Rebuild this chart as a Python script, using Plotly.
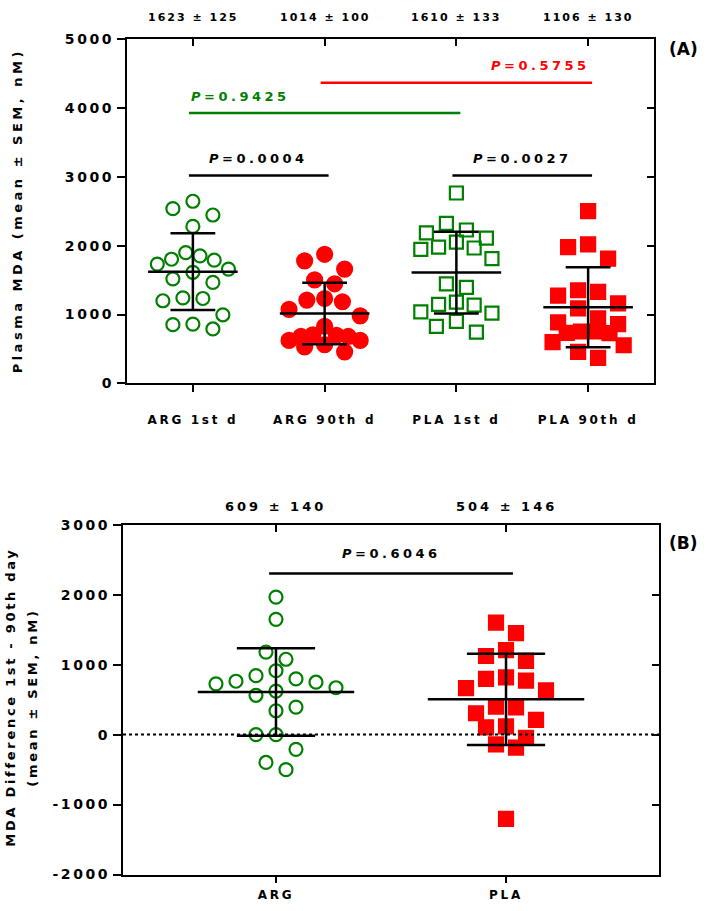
import numpy as np
import plotly.graph_objects as go

# ---------------- data ----------------
groups_a = ["ARG 1st d", "ARG 90th d", "PLA 1st d", "PLA 90th d"]
arg_1st = [2539, 2647, 2447, 2281, 1900, 1853, 1804, 1790, 1733, 1661,
           1614, 1519, 1467, 1233, 1200, 1243, 996, 861, 790, 853]
arg_90th = [1876, 1781, 1661, 1504, 1447, 1233, 1186, 1210, 1076, 981,
            829, 704, 681, 624, 561, 457, 529, 624, 681, 696]
pla_1st = [2767, 2324, 2110, 2186, 2229, 2053, 1981, 1948, 1967, 1814,
           1395, 1447, 1147, 1138, 1181, 1038, 1019, 900, 829, 743]
pla_90th = [2504, 1981, 2019, 1814, 1353, 1276, 1329, 1090, 1161, 886,
            943, 753, 729, 733, 753, 861, 553, 600, 457, 371]
means_a = [1623, 1014, 1610, 1106]
sems_a = [125, 100, 133, 130]
yticks_a = [0, 1000, 2000, 3000, 4000, 5000]

groups_b = ["ARG", "PLA"]
arg_diff = [1966, 1648, 1180, 1077, 913, 843, 763, 726, 670, 749,
            796, 562, 622, 341, 393, 0, 0, -211, -501, -398]
pla_diff = [1601, 1451, 1208, 1124, 1053, 819, 772, 796, 632, 664,
            398, 389, 305, 211, 103, 117, -46, -140, -187, -1204]
means_b = [609, 504]
sems_b = [140, 146]
yticks_b = [-2000, -1000, 0, 1000, 2000, 3000]

# comparisons: (group i, group j, bracket height, p text, colour, text alignment)
comparisons_a = [
    (0, 1, 3020, "0.0004", "black", "center"),
    (2, 3, 3020, "0.0027", "black", "center"),
    (0, 2, 3930, "0.9425", "#008000", "left"),
    (1, 3, 4370, "0.5755", "#ff0000", "right"),
]
comparisons_b = [(0, 1, 2303, "0.6046", "black", "center")]

# ---------------- geometry ----------------
W, H = 709, 911
A_x_px = (127, 654)
A_y_px = (32, 382)
B_x_px = (123, 659)
B_y_px = (526, 882)
A_xrange = [-0.5, 3.5]
A_yrange = [0, 5000]
B_xrange = [-0.665, 1.665]
B_yrange = [-2000, 3000]

GREEN = "#008000"
RED = "#ff0000"
FONT = "DejaVu Sans"


def ls(text, sp):
    return f'<span style="letter-spacing:{sp}px">{text}</span>'


def xdom(px):
    return [px[0] / W, px[1] / W]


def ydom(px):
    return [1 - px[1] / H, 1 - px[0] / H]


def swarm(values, px_unit, px_cat, row_h=18.0, step=20.0, half_w=0.27):
    """Column-scatter layout: group points into horizontal rows and spread them."""
    vals = np.asarray(values, dtype=float)
    order = list(np.argsort(-vals, kind="stable"))
    offs = np.zeros(len(vals))
    max_half = half_w * px_cat
    k = 0
    while k < len(order):
        top = vals[order[k]] * px_unit
        row = [order[k]]
        k += 1
        while k < len(order) and top - vals[order[k]] * px_unit < row_h:
            row.append(order[k])
            k += 1
        n = len(row)
        s = step if n == 1 else min(step, 2 * max_half / (n - 1))
        slots = [(q - (n - 1) / 2) * s for q in range(n)]
        slots.sort(key=lambda c: (round(abs(c), 6), c))
        for idx, pos in zip(row, slots):
            offs[idx] = pos
    return offs / px_cat


A_px_unit = (A_y_px[1] - A_y_px[0]) / (A_yrange[1] - A_yrange[0])
A_px_cat = (A_x_px[1] - A_x_px[0]) / (A_xrange[1] - A_xrange[0])
B_px_unit = (B_y_px[1] - B_y_px[0]) / (B_yrange[1] - B_yrange[0])
B_px_cat = (B_x_px[1] - B_x_px[0]) / (B_xrange[1] - B_xrange[0])

fig = go.Figure()

# ---------------- points ----------------
series_a = [
    (arg_1st, "circle-open", 13, GREEN),
    (arg_90th, "circle", 15, RED),
    (pla_1st, "square-open", 13, GREEN),
    (pla_90th, "square", 14, RED),
]
for i, (vals, sym, size, col) in enumerate(series_a):
    off = swarm(vals, A_px_unit, A_px_cat)
    fig.add_trace(go.Scatter(
        x=i + off, y=vals, mode="markers", xaxis="x", yaxis="y",
        marker=dict(symbol=sym, size=size, color=col, line=dict(width=2.2, color=col)),
        showlegend=False, hoverinfo="skip"))

series_b = [
    (arg_diff, "circle-open", 13, GREEN),
    (pla_diff, "square", 14, RED),
]
for i, (vals, sym, size, col) in enumerate(series_b):
    off = swarm(vals, B_px_unit, B_px_cat)
    fig.add_trace(go.Scatter(
        x=i + off, y=vals, mode="markers", xaxis="x2", yaxis="y2",
        marker=dict(symbol=sym, size=size, color=col, line=dict(width=2.2, color=col)),
        showlegend=False, hoverinfo="skip"))


# ---------------- mean +/- SD bars ----------------
def bar_trace(means, sems, ns, xa, ya):
    xs, ys = [], []
    for i, (m, s, n) in enumerate(zip(means, sems, ns)):
        sd = s * np.sqrt(n)
        xs += [i - 0.34, i + 0.34, None, i, i, None,
               i - 0.17, i + 0.17, None, i - 0.17, i + 0.17, None]
        ys += [m, m, None, m - sd, m + sd, None,
               m + sd, m + sd, None, m - sd, m - sd, None]
    return go.Scatter(x=xs, y=ys, mode="lines", xaxis=xa, yaxis=ya,
                      line=dict(color="black", width=2.5),
                      showlegend=False, hoverinfo="skip")


fig.add_trace(bar_trace(means_a, sems_a, [len(arg_1st), len(arg_90th), len(pla_1st), len(pla_90th)], "x", "y"))
fig.add_trace(bar_trace(means_b, sems_b, [len(arg_diff), len(pla_diff)], "x2", "y2"))

# dummy traces for the mirrored (inside-tick) axes
fig.add_trace(go.Scatter(x=[None], y=[None], xaxis="x3", yaxis="y3", showlegend=False, hoverinfo="skip"))
fig.add_trace(go.Scatter(x=[None], y=[None], xaxis="x4", yaxis="y4", showlegend=False, hoverinfo="skip"))

# ---------------- axes ----------------
tickfont = dict(family=FONT, size=14, color="black", weight="bold")
catfont = dict(family=FONT, size=12, color="black", weight="bold")
common = dict(showgrid=False, zeroline=False, showline=True, linecolor="black",
              linewidth=2, tickcolor="black", tickwidth=2, fixedrange=True)

fig.update_layout(
    width=W, height=H, margin=dict(l=0, r=0, t=0, b=0),
    paper_bgcolor="white", plot_bgcolor="white", showlegend=False,
    font=dict(family=FONT, color="black", weight="bold"),
    xaxis=dict(domain=xdom(A_x_px), range=A_xrange, anchor="y",
               tickvals=list(range(len(groups_a))), ticktext=[ls(g, 2.7) for g in groups_a],
               ticks="outside", ticklen=7, tickfont=catfont,
               ticklabelstandoff=17, **common),
    yaxis=dict(domain=ydom(A_y_px), range=A_yrange, anchor="x",
               tickvals=yticks_a, ticktext=[ls(str(t), 2.6) for t in yticks_a],
               ticks="outside", ticklen=8, tickfont=tickfont, **common),
    xaxis3=dict(domain=xdom(A_x_px), range=A_xrange, anchor="y3", overlaying="x", side="top",
                tickvals=list(range(len(groups_a))), ticks="inside", ticklen=7,
                showticklabels=False, **common),
    yaxis3=dict(domain=ydom(A_y_px), range=A_yrange, anchor="x3", overlaying="y", side="right",
                tickvals=yticks_a, ticks="inside", ticklen=7, showticklabels=False, **common),
    xaxis2=dict(domain=xdom(B_x_px), range=B_xrange, anchor="y2",
                tickvals=list(range(len(groups_b))), ticktext=[ls(g, 2.7) for g in groups_b],
                ticks="outside", ticklen=6, tickfont=catfont,
                ticklabelstandoff=2, **common),
    yaxis2=dict(domain=ydom(B_y_px), range=B_yrange, anchor="x2",
                tickvals=yticks_b, ticktext=[ls(str(t), 2.6) for t in yticks_b],
                ticks="outside", ticklen=8, tickfont=tickfont, **common),
    xaxis4=dict(domain=xdom(B_x_px), range=B_xrange, anchor="y4", overlaying="x2", side="top",
                tickvals=list(range(len(groups_b))), ticks="inside", ticklen=7,
                showticklabels=False, **common),
    yaxis4=dict(domain=ydom(B_y_px), range=B_yrange, anchor="x4", overlaying="y2", side="right",
                tickvals=yticks_b, ticks="inside", ticklen=7, showticklabels=False, **common),
)

# zero reference line in panel B
fig.add_shape(type="line", xref="x2 domain", yref="y2", x0=0, x1=1, y0=0, y1=0,
              line=dict(color="black", width=2, dash="dot"))


# ---------------- significance brackets ----------------
def add_brackets(comps, xa, ya, shift):
    for i, j, h, p, col, align in comps:
        fig.add_shape(type="line", xref=xa, yref=ya, x0=i - 0.03, x1=j + 0.03, y0=h, y1=h,
                      line=dict(color=col, width=2.5))
        if align == "left":
            xpos, xanc = i - 0.03, "left"
        elif align == "right":
            xpos, xanc = j + 0.03, "right"
        else:
            xpos, xanc = (i + j) / 2, "center"
        fig.add_annotation(x=xpos, y=h, xref=xa, yref=ya, xanchor=xanc, yanchor="middle",
                           yshift=shift, showarrow=False,
                           text=ls(f"<i>P</i>={p}", 3.5),
                           font=dict(family=FONT, size=13, color=col, weight="bold"))


add_brackets(comparisons_a, "x", "y", 17)
add_brackets(comparisons_b, "x2", "y2", 20)

# ---------------- headers (mean ± SEM) ----------------
for i, (m, s) in enumerate(zip(means_a, sems_a)):
    fig.add_annotation(x=i, y=1 - 10 / H, xref="x", yref="paper", showarrow=False,
                       xanchor="center", yanchor="middle",
                       text=ls(f"{m} ± {s}", 2),
                       font=dict(family=FONT, size=11, color="black", weight="bold"))
for i, (m, s) in enumerate(zip(means_b, sems_b)):
    fig.add_annotation(x=i, y=1 - 507 / H, xref="x2", yref="paper", showarrow=False,
                       xanchor="center", yanchor="middle",
                       text=ls(f"{m} ± {s}", 3),
                       font=dict(family=FONT, size=13, color="black", weight="bold"))

# ---------------- axis titles & panel labels ----------------
fig.add_annotation(x=17 / W, y=1 - 207 / H, xref="paper", yref="paper", showarrow=False,
                   textangle=-90, xanchor="center", yanchor="middle",
                   text=ls("Plasma MDA (mean ± SEM, nM)", 3.5),
                   font=dict(family=FONT, size=13, color="black", weight="bold"))
fig.add_annotation(x=11 / W, y=1 - 702 / H, xref="paper", yref="paper", showarrow=False,
                   textangle=-90, xanchor="center", yanchor="middle",
                   text=ls("MDA Difference 1st - 90th day", 2.7),
                   font=dict(family=FONT, size=13, color="black", weight="bold"))
fig.add_annotation(x=33 / W, y=1 - 702 / H, xref="paper", yref="paper", showarrow=False,
                   textangle=-90, xanchor="center", yanchor="middle",
                   text=ls("(mean ± SEM, nM)", 2.7),
                   font=dict(family=FONT, size=13, color="black", weight="bold"))
fig.add_annotation(x=683 / W, y=1 - 42 / H, xref="paper", yref="paper", showarrow=False,
                   xanchor="center", yanchor="middle", text="(A)",
                   font=dict(family=FONT, size=17, color="black", weight="bold"))
fig.add_annotation(x=683 / W, y=1 - 545 / H, xref="paper", yref="paper", showarrow=False,
                   xanchor="center", yanchor="middle", text="(B)",
                   font=dict(family=FONT, size=17, color="black", weight="bold"))

fig.write_html("out.html",
               config={"displayModeBar": False, "staticPlot": True},
               post_script="document.body.style.margin='0px';document.body.style.overflow='hidden';")
